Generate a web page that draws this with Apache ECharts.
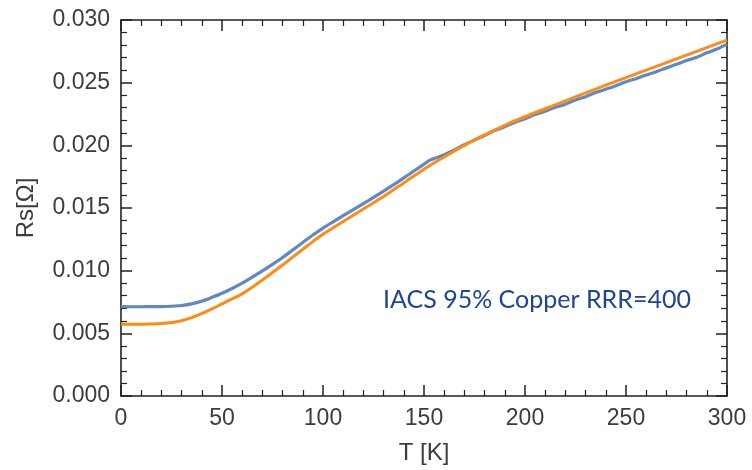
<!DOCTYPE html>
<html>
<head>
<meta charset="utf-8">
<script src="https://cdn.jsdelivr.net/npm/echarts@6/dist/echarts.min.js"></script>
<style>
  html, body { margin: 0; padding: 0; background: #fff; }
  #chart { width: 752px; height: 470px; }
</style>
</head>
<body>
<div id="chart"></div>
<script>
// measured surface resistance (blue) and model curve (orange), T in K, Rs in ohm
const measuredT = [0, 5, 10, 15, 20, 25, 30, 35, 40, 45, 50, 55, 60, 65, 70, 75, 80, 85, 90, 95,
  100, 105, 110, 115, 120, 125, 130, 135, 140, 145, 150, 153, 156, 160, 165, 170, 175, 180,
  185, 190, 195, 200, 205, 210, 215, 220, 225, 230, 235, 240, 245, 250, 255, 260, 265, 270,
  275, 280, 285, 290, 295, 300];
const measuredRs = [0.00713, 0.00712, 0.00712, 0.00713, 0.00713, 0.00716, 0.00722, 0.00735,
  0.00757, 0.00787, 0.00820, 0.00858, 0.00900, 0.00948, 0.00998, 0.01050, 0.01105, 0.01165,
  0.01225, 0.01285, 0.01340, 0.01390, 0.01440, 0.01487, 0.01535, 0.01584, 0.01634, 0.01686,
  0.01740, 0.01795, 0.01850, 0.01882, 0.01900, 0.01926, 0.01964, 0.02005, 0.02042, 0.02078,
  0.02118, 0.02148, 0.02183, 0.02212, 0.02246, 0.02272, 0.02303, 0.02328, 0.02362, 0.02388,
  0.02421, 0.02448, 0.02476, 0.02508, 0.02532, 0.02561, 0.02588, 0.02618, 0.02646, 0.02677,
  0.02702, 0.02738, 0.02768, 0.02808];

const modelT = [0, 10, 20, 25, 30, 35, 40, 45, 50, 55, 60, 65, 70, 75, 80, 85, 90, 95, 100,
  110, 120, 130, 140, 150, 160, 170, 180, 190, 200, 210, 220, 230, 240, 250, 260, 270, 280,
  290, 300];
const modelRs = [0.00572, 0.00573, 0.00578, 0.00586, 0.00600, 0.00625, 0.00658, 0.00695,
  0.00735, 0.00775, 0.00815, 0.00868, 0.00925, 0.00985, 0.01045, 0.01108, 0.01170, 0.01232,
  0.01290, 0.01392, 0.01492, 0.01592, 0.01700, 0.01810, 0.01908, 0.02000, 0.02083, 0.02160,
  0.02228, 0.02292, 0.02355, 0.02418, 0.02480, 0.02540, 0.02600, 0.02660, 0.02720, 0.02780,
  0.02840];

const xTicks = [0, 50, 100, 150, 200, 250, 300];
const yTicks = ['0.000', '0.005', '0.010', '0.015', '0.020', '0.025', '0.030'];
const note = 'IACS 95% Copper RRR=400';

const axisColor = '#222';
const labelColor = '#3c3c3c';

function pairs(xs, ys) {
  return xs.map((x, i) => [x, ys[i]]);
}

const chart = echarts.init(document.getElementById('chart'));

function xAxisDef(pos, showLabel) {
  return {
    type: 'value',
    position: pos,
    min: xTicks[0],
    max: xTicks[xTicks.length - 1],
    interval: 50,
    name: showLabel ? 'T [K]' : '',
    nameLocation: 'middle',
    nameGap: 45,
    nameTextStyle: { color: labelColor, fontSize: 24, fontFamily: 'Liberation Sans' },
    axisLine: { show: true, onZero: false, lineStyle: { color: axisColor, width: 1.6 } },
    axisTick: { show: true, inside: true, length: 11, lineStyle: { color: axisColor, width: 1.5 } },
    minorTick: { show: true, splitNumber: 5, length: 6, lineStyle: { color: axisColor, width: 1.2 } },
    axisLabel: {
      show: showLabel, color: labelColor, fontSize: 23, fontFamily: 'Liberation Sans', margin: 11
    },
    splitLine: { show: false }
  };
}

function yAxisDef(pos, showLabel) {
  return {
    type: 'value',
    position: pos,
    min: 0,
    max: 0.03,
    interval: 0.005,
    name: showLabel ? 'Rs[Ω]' : '',
    nameLocation: 'middle',
    nameGap: 83,
    nameRotate: 90,
    nameTextStyle: { color: labelColor, fontSize: 24, fontFamily: 'Liberation Sans' },
    axisLine: { show: true, onZero: false, lineStyle: { color: axisColor, width: 1.6 } },
    axisTick: { show: true, inside: true, length: 11, lineStyle: { color: axisColor, width: 1.5 } },
    minorTick: { show: true, splitNumber: 5, length: 6, lineStyle: { color: axisColor, width: 1.2 } },
    axisLabel: {
      show: showLabel, color: labelColor, fontSize: 23, fontFamily: 'Liberation Sans', margin: 11,
      formatter: (v) => yTicks[Math.round(v / 0.005)]
    },
    splitLine: { show: false }
  };
}

chart.setOption({
  animation: false,
  backgroundColor: '#fff',
  grid: { left: 121, right: 25, top: 20, bottom: 74 },
  xAxis: [xAxisDef('bottom', true), xAxisDef('top', false)],
  yAxis: [yAxisDef('left', true), yAxisDef('right', false)],
  graphic: [{
    type: 'text',
    left: 383,
    top: 287,
    style: { text: note, fill: '#1d4593', fontSize: 25, fontFamily: 'Lato' }
  }],
  series: [
    {
      type: 'line',
      data: pairs(measuredT, measuredRs),
      showSymbol: false,
      smooth: 0.3,
      lineStyle: { color: '#5f88c4', width: 3.2 },
      z: 2
    },
    {
      type: 'line',
      data: pairs(modelT, modelRs),
      showSymbol: false,
      smooth: 0.4,
      lineStyle: { color: '#ff8a14', width: 3 },
      z: 3
    }
  ]
});
</script>
</body>
</html>
